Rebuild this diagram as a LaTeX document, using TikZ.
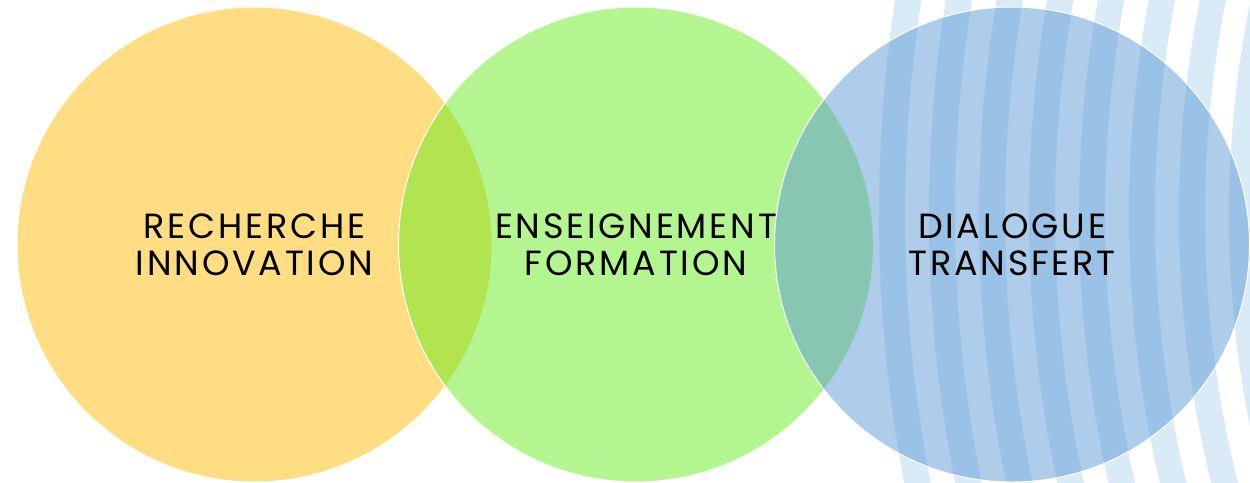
\documentclass[tikz,border=0pt]{standalone}
\usepackage{fontspec}
\setmainfont{Poppins}
\newfontfamily\lblfont[LetterSpace=8]{Poppins}
\definecolor{ygold}{HTML}{FFBB05}
\definecolor{vgreen}{HTML}{67EB1F}
\definecolor{oblue}{HTML}{5B9BD5}
\definecolor{wavecol}{HTML}{DAEBF8}
\begin{document}
\begin{tikzpicture}[x=1pt,y=-1pt,
  disc/.style={circle, draw=white, line width=1pt, fill opacity=0.5, text opacity=1,
    minimum size=475pt, inner sep=0pt, align=center, text=black,
    font=\lblfont\fontsize{35}{37}\selectfont},
  wave/.style={draw=wavecol, line width=26pt}]
\useasboundingbox (0,0) rectangle (1250,482);
\begin{scope}
\clip (0,0) rectangle (1250,482);
\coordinate (wc) at (2300,215);
\foreach \k in {0,...,7} {
  \draw[wave] (wc) circle[radius={1408pt-50pt*\k}];
}
\node[disc, fill=ygold] (rech) at (254.5,244.5) {RECHERCHE\\INNOVATION};
\node[disc, fill=vgreen] (ens) at (636,244.5) {ENSEIGNEMENT\\FORMATION};
\node[disc, fill=oblue] (dial) at (1012,244.5) {DIALOGUE\\TRANSFERT};
\end{scope}
\end{tikzpicture}
\end{document}
